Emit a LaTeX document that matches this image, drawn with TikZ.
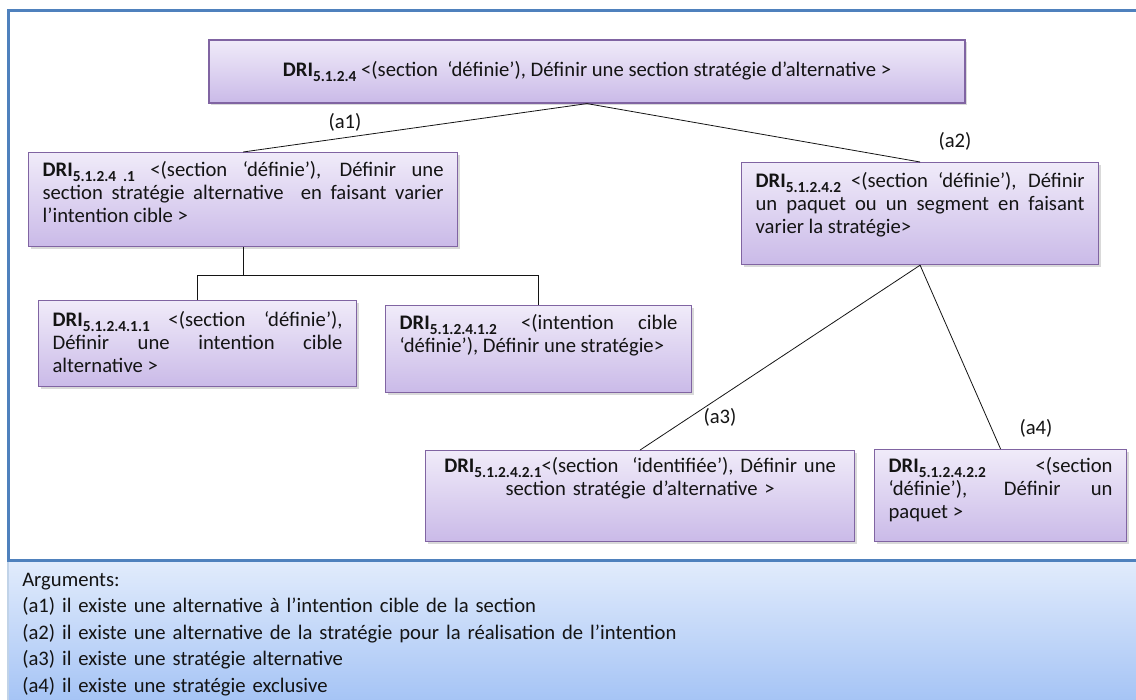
\documentclass[tikz,border=0pt]{standalone}
\usepackage{fontspec}
\setmainfont{Carlito}
\usetikzlibrary{positioning,shadows}
\definecolor{frameblue}{RGB}{79,129,189}
\definecolor{plum}{RGB}{128,100,162}
\definecolor{plumtop}{RGB}{240,235,249}
\definecolor{plumbot}{RGB}{202,186,232}
\definecolor{skytop}{RGB}{226,236,252}
\definecolor{skybot}{RGB}{164,195,245}
\definecolor{ink}{RGB}{20,20,20}
\tikzset{
  dribox/.style={draw=plum,line width=0.9pt,top color=plumtop,bottom color=plumbot,
    drop shadow={shadow xshift=1.8pt,shadow yshift=-1.8pt,opacity=0.3},
    inner xsep=10.5pt,inner ysep=0pt,anchor=north west,align=justify,text=ink,
    font=\fontsize{15.5pt}{17.25pt}\selectfont},
  link/.style={draw=ink,line width=0.6pt},
  lbl/.style={text=ink,font=\fontsize{15.5pt}{17pt}\selectfont},
  argtext/.style={text=ink,align=left,inner sep=0pt,font=\fontsize{15.5pt}{19.9pt}\selectfont},
}
\newcommand{\DRI}[1]{\textbf{DRI\raisebox{-0.45ex}{\fontsize{11.5pt}{12pt}\selectfont#1}}}

\begin{document}
\begin{tikzpicture}[x=0.75pt,y=-0.75pt]
  \useasboundingbox (0,0) rectangle (1136,700);
  % frame and arguments panel
  \shade[top color=skytop,bottom color=skybot,draw=frameblue!35,line width=0.8pt] (8,560) rectangle (1142,704);
  \draw[frameblue,line width=2.25pt] (8,560) rectangle (1142,10);

  % refinement tree
  \node[dribox,anchor=center,minimum width=567pt,minimum height=47.25pt,align=center] (dri) at (587,71.5)
    {\DRI{5.1.2.4} <(section\ \ ‘définie’), Définir une section stratégie d’alternative >};
  \node[dribox,text width=300.75pt,text height=18pt,text depth=52.5pt] (dri1) at (28,152)
    {\DRI{5.1.2.4\ \ .1} <(section ‘définie’), Définir une\linebreak
     section stratégie alternative\ \ en faisant varier\linebreak
     l’intention cible >};
  \node[dribox,text width=246.75pt,text height=18.75pt,text depth=57.75pt] (dri2) at (741,162)
    {\DRI{5.1.2.4.2} <(section ‘définie’), Définir\linebreak
     un paquet ou un segment en faisant\linebreak
     varier la stratégie>};
  \node[dribox,text width=217.5pt,text height=19.5pt,text depth=45pt] (dri11) at (38,300)
    {\DRI{5.1.2.4.1.1} <(section ‘définie’),\linebreak
     Définir une intention cible\linebreak
     alternative >};
  \node[dribox,text width=208.5pt,text height=18pt,text depth=47.25pt] (dri12) at (385,305)
    {\DRI{5.1.2.4.1.2} <(intention cible\linebreak
     ‘définie’), Définir une stratégie>};
  \node[dribox,text width=300.75pt,text height=16.5pt,text depth=51.75pt,align=center] (dri21) at (425,450)
    {\DRI{5.1.2.4.2.1}<(section\ \ ‘identifiée’), Définir une\\
     section stratégie d’alternative >};
  \node[dribox,text width=168pt,text height=17.25pt,text depth=51.75pt] (dri22) at (874,449)
    {\DRI{5.1.2.4.2.2} <(section\linebreak
     ‘définie’), Définir un\linebreak
     paquet >};

  \path (dri1.south) ++(0,28) coordinate (fork);
  \draw[link] (dri.south) -- (dri1.north);
  \draw[link] (dri.south) -- (dri2.north);
  \draw[link] (dri1.south) -- (fork);
  \draw[link] (dri11.north) |- (fork) -| (dri12.north);
  \draw[link] (dri2.south) -- (dri21.north);
  \draw[link] (dri2.south) -- (dri22.north);

  \node[lbl] (la1) at (345,122) {(a1)};
  \node[lbl] (la2) at (955,141) {(a2)};
  \node[lbl] (la3) at (720,417) {(a3)};
  \node[lbl] (la4) at (1036,428) {(a4)};

  \node[argtext,anchor=base west,text width=750pt] (args) at (22,586)
    {Arguments:\\
     (a1) il existe une alternative à l’intention cible de la section\\
     (a2) il existe une alternative de la stratégie pour la réalisation de l’intention\\
     (a3) il existe une stratégie alternative\\
     (a4) il existe une stratégie exclusive};
\end{tikzpicture}
\end{document}
